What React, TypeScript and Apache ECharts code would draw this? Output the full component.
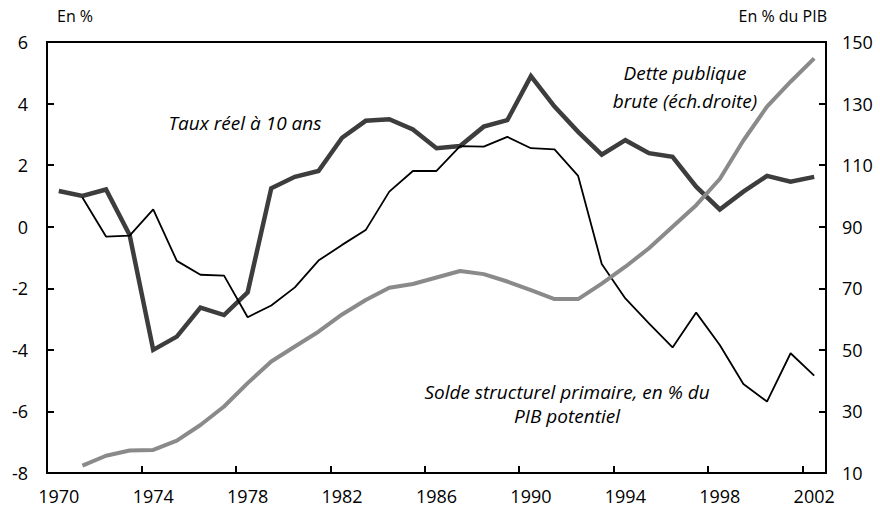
import React, { useEffect, useRef } from "react";
import * as echarts from "echarts";

const years = [
  "1970", "1971", "1972", "1973", "1974", "1975", "1976", "1977", "1978", "1979",
  "1980", "1981", "1982", "1983", "1984", "1985", "1986", "1987", "1988", "1989",
  "1990", "1991", "1992", "1993", "1994", "1995", "1996", "1997", "1998", "1999",
  "2000", "2001", "2002",
];

// Taux réel à 10 ans (échelle gauche, en %)
const tauxReel = [
  1.16, 1.0, 1.21, -0.27, -4.0, -3.57, -2.63, -2.87, -2.13, 1.25,
  1.62, 1.81, 2.89, 3.44, 3.49, 3.16, 2.55, 2.62, 3.25, 3.46,
  4.89, 3.9, 3.08, 2.34, 2.81, 2.39, 2.27, 1.3, 0.56, 1.14,
  1.65, 1.46, 1.62,
];

// Solde structurel primaire, en % du PIB potentiel (échelle gauche)
const soldePrimaire = [
  null, 0.95, -0.32, -0.29, 0.56, -1.11, -1.56, -1.59, -2.94, -2.56,
  -1.97, -1.1, -0.59, -0.11, 1.14, 1.81, 1.81, 2.62, 2.6, 2.92,
  2.55, 2.51, 1.65, -1.21, -2.33, -3.14, -3.92, -2.79, -3.84, -5.11,
  -5.68, -4.11, -4.84,
];

// Dette publique brute (échelle droite, en % du PIB)
const dettePublique = [
  null, 12.4, 15.6, 17.3, 17.5, 20.5, 25.6, 31.6, 39.2, 46.2,
  51.1, 55.9, 61.5, 66.2, 70.2, 71.4, 73.5, 75.6, 74.6, 72.2,
  69.4, 66.5, 66.5, 71.5, 77.0, 83.0, 90.0, 97.0, 105.5, 118.0,
  129.0, 137.1, 144.7,
];

const leftAxis = { min: -8, max: 6, interval: 2 };
const rightAxis = { min: 10, max: 150, interval: 20 };

const FONT = "'Open Sans', Lato, sans-serif";

export default function App() {
  const ref = useRef<HTMLDivElement>(null);

  useEffect(() => {
    if (!ref.current) return;
    const chart = echarts.init(ref.current, null, { renderer: "svg" });
    const axisLabelStyle = { color: "#000", fontSize: 18, fontFamily: FONT };
    const noteStyle = {
      fontSize: 19,
      fontStyle: "italic",
      fontFamily: FONT,
      fill: "#000",
      align: "center",
      verticalAlign: "middle",
    };
    chart.setOption({
      animation: false,
      backgroundColor: "#fff",
      textStyle: { fontFamily: FONT },
      grid: {
        left: 47,
        right: 54,
        top: 42,
        bottom: 43,
        show: true,
        borderColor: "#000",
        borderWidth: 2,
        containLabel: false,
      },
      xAxis: {
        type: "category",
        data: years,
        boundaryGap: true,
        axisLine: { show: true, onZero: false, lineStyle: { color: "#000", width: 2 } },
        axisTick: { show: true, inside: true, interval: 3, length: 7, lineStyle: { color: "#000", width: 2 } },
        axisLabel: { ...axisLabelStyle, interval: 3, margin: 14 },
        splitLine: { show: false },
      },
      yAxis: [
        {
          type: "value",
          position: "left",
          min: leftAxis.min,
          max: leftAxis.max,
          interval: leftAxis.interval,
          axisLine: { show: true, lineStyle: { color: "#000", width: 2 } },
          axisTick: { show: true, inside: true, length: 7, lineStyle: { color: "#000", width: 2 } },
          axisLabel: { ...axisLabelStyle, margin: 19 },
          splitLine: { show: false },
        },
        {
          type: "value",
          position: "right",
          min: rightAxis.min,
          max: rightAxis.max,
          interval: rightAxis.interval,
          axisLine: { show: true, lineStyle: { color: "#000", width: 2 } },
          axisTick: { show: true, inside: true, length: 7, lineStyle: { color: "#000", width: 2 } },
          axisLabel: { ...axisLabelStyle, margin: 16 },
          splitLine: { show: false },
        },
      ],
      series: [
        {
          name: "Taux réel à 10 ans",
          type: "line",
          yAxisIndex: 0,
          data: tauxReel,
          symbol: "none",
          lineStyle: { color: "#3d3d3d", width: 4.5, join: "miter" },
        },
        {
          name: "Solde structurel primaire",
          type: "line",
          yAxisIndex: 0,
          data: soldePrimaire,
          symbol: "none",
          lineStyle: { color: "#000", width: 1.8 },
        },
        {
          name: "Dette publique brute",
          type: "line",
          yAxisIndex: 1,
          data: dettePublique,
          symbol: "none",
          lineStyle: { color: "#8a8a8a", width: 4 },
        },
      ],
      graphic: [
        {
          type: "text",
          left: 57,
          top: 8,
          style: { text: "En %", fontSize: 16, fontFamily: FONT, fill: "#000" },
        },
        {
          type: "text",
          right: 53,
          top: 8,
          style: { text: "En % du PIB", fontSize: 16, fontFamily: FONT, fill: "#000", align: "right" },
        },
        {
          type: "text",
          x: 245,
          y: 123,
          style: { ...noteStyle, text: "Taux réel à 10 ans" },
        },
        {
          type: "text",
          x: 685,
          y: 87,
          style: { ...noteStyle, text: "Dette publique\nbrute (éch.droite)", lineHeight: 28 },
        },
        {
          type: "text",
          x: 567,
          y: 404,
          style: { ...noteStyle, text: "Solde structurel primaire, en % du\nPIB potentiel", lineHeight: 24 },
        },
      ],
    });
    return () => chart.dispose();
  }, []);

  return <div ref={ref} style={{ width: 880, height: 516, position: "absolute", left: 0, top: 0 }} />;
}
